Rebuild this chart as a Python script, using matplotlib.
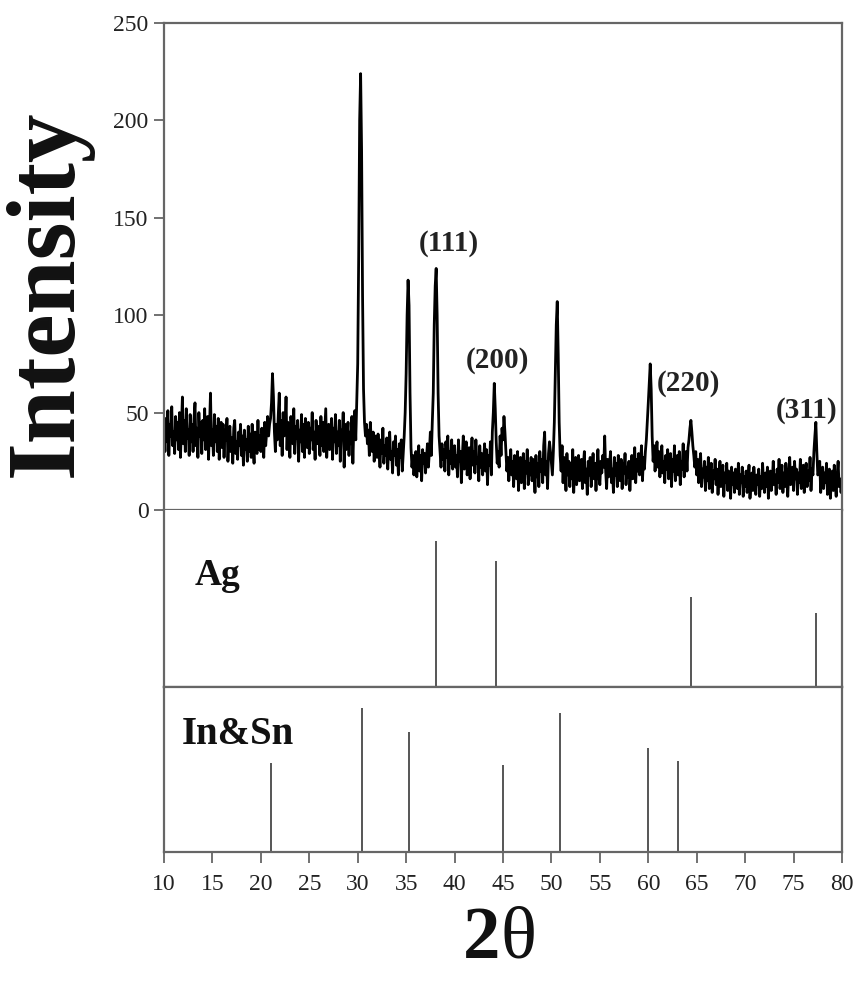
import numpy as np
import matplotlib
matplotlib.use("Agg")
import matplotlib.pyplot as plt

plt.rcParams['font.family'] = ['Liberation Serif', 'DejaVu Serif']

# ---- data: 2theta from 10.0 to 80.0 in 0.1 deg steps ----
two_theta_start = 10.0
two_theta_step = 0.1

int_10_20 = [42, 30, 47, 35, 51, 28, 44, 38, 53, 33,
             40, 29, 48, 36, 45, 31, 50, 27, 43, 58,
             34, 46, 30, 52, 37, 41, 28, 49, 35, 44,
             30, 47, 55, 33, 42, 27, 50, 38, 45, 29,
             46, 36, 52, 31, 40, 48, 26, 44, 60, 33,
             41, 28, 49, 35, 43, 30, 47, 26, 39, 45,
             32, 44, 27, 41, 36, 47, 25, 38, 43, 30,
             37, 24, 42, 46, 29, 35, 26, 40, 33, 44,
             28, 38, 23, 41, 31, 36, 25, 43, 30, 39,
             27, 44, 32, 24, 40, 35, 29, 46, 31, 38]
int_20_30 = [30, 42, 35, 27, 45, 33, 40, 48, 38, 44,
             47, 55, 70, 58, 40, 30, 44, 36, 49, 60,
             33, 46, 28, 50, 38, 42, 58, 31, 45, 36,
             27, 48, 40, 34, 52, 29, 43, 37, 46, 25,
             41, 35, 49, 30, 44, 27, 47, 38, 32, 45,
             29, 42, 36, 50, 31, 40, 26, 46, 34, 43,
             37, 28, 48, 33, 45, 30, 41, 52, 27, 39,
             44, 31, 38, 47, 26, 42, 35, 49, 29, 40,
             33, 46, 25, 41, 37, 50, 22, 44, 31, 38,
             45, 28, 40, 34, 48, 24, 43, 51, 36, 55]
int_30_40 = [75, 130, 200, 224, 185, 110, 62, 45, 38, 44,
             34, 41, 28, 45, 36, 30, 40, 25, 38, 33,
             27, 39, 31, 22, 36, 29, 42, 24, 33, 28,
             37, 21, 32, 40, 26, 30, 19, 35, 28, 38,
             23, 31, 18, 34, 27, 36, 20, 29, 38, 50,
             70, 100, 118, 105, 60, 32, 22, 28, 18, 25,
             30, 17, 26, 33, 20, 28, 15, 31, 24, 29,
             19, 27, 34, 22, 30, 40, 28, 45, 60, 95,
             115, 124, 100, 60, 38, 30, 22, 34, 26, 31,
             20, 35, 27, 38, 18, 30, 24, 36, 21, 29]
int_40_50 = [33, 22, 28, 17, 36, 25, 30, 14, 27, 38,
             21, 29, 35, 18, 26, 32, 16, 28, 37, 23,
             30, 19, 36, 24, 27, 15, 33, 22, 29, 18,
             26, 34, 20, 31, 13, 28, 23, 35, 18, 40,
             50, 65, 52, 35, 24, 30, 22, 38, 28, 42,
             36, 48, 40, 30, 20, 27, 15, 24, 31, 18,
             25, 12, 28, 20, 16, 30, 10, 23, 27, 14,
             22, 29, 11, 25, 19, 31, 13, 24, 18, 27,
             15, 26, 21, 9, 28, 17, 24, 12, 30, 20,
             26, 14, 33, 40, 18, 25, 11, 29, 35, 30]
int_50_60 = [24, 18, 30, 45, 70, 95, 107, 80, 45, 28,
             20, 33, 14, 27, 22, 10, 29, 18, 25, 12,
             24, 16, 31, 9, 22, 27, 13, 20, 28, 15,
             19, 26, 11, 23, 30, 14, 21, 8, 25, 18,
             27, 12, 20, 29, 16, 24, 10, 22, 31, 17,
             13, 25, 19, 28, 22, 38, 20, 11, 26, 17,
             23, 30, 14, 21, 9, 27, 18, 24, 12, 28,
             20, 15, 26, 11, 24, 19, 29, 13, 22, 17,
             25, 10, 21, 28, 16, 23, 32, 14, 26, 20,
             29, 18, 24, 33, 15, 27, 21, 30, 36, 45]
int_60_70 = [55, 65, 75, 62, 38, 25, 33, 20, 29, 35,
             22, 30, 17, 27, 33, 19, 25, 14, 28, 21,
             31, 16, 24, 29, 12, 26, 20, 33, 15, 23,
             28, 18, 30, 13, 25, 21, 34, 17, 27, 30,
             20, 32, 36, 42, 46, 40, 33, 28, 22, 30,
             18, 26, 14, 23, 29, 12, 21, 17, 25, 10,
             22, 15, 27, 11, 19, 24, 9, 20, 16, 26,
             13, 21, 8, 18, 25, 12, 17, 23, 7, 19,
             14, 24, 10, 20, 16, 6, 22, 13, 19, 9,
             21, 15, 11, 24, 8, 18, 14, 22, 7, 17]
int_70_80 = [12, 20, 9, 16, 23, 6, 14, 19, 10, 22,
             15, 8, 18, 13, 21, 7, 17, 11, 24, 14,
             9, 19, 12, 22, 6, 16, 20, 10, 15, 25,
             13, 18, 8, 21, 14, 26, 11, 17, 23, 9,
             19, 12, 24, 15, 7, 20, 27, 13, 18, 22,
             10, 25, 16, 21, 8, 19, 14, 26, 11, 17,
             23, 9, 18, 24, 12, 20, 15, 27, 10, 21,
             18, 30, 38, 45, 30, 18, 19, 25, 9, 17,
             22, 11, 19, 14, 24, 8, 17, 21, 6, 15,
             20, 10, 23, 13, 7, 18, 25, 12, 16, 9,
             14]

intensity = np.array(int_10_20 + int_20_30 + int_30_40 + int_40_50 +
                     int_50_60 + int_60_70 + int_70_80, dtype=float)
two_theta = two_theta_start + two_theta_step * np.arange(len(intensity))

ag_pos = [38.1, 44.3, 64.4, 77.3]
ag_rel = [0.825, 0.71, 0.51, 0.42]
insn_pos = [21.0, 30.4, 35.3, 45.0, 50.9, 60.0, 63.1]
insn_rel = [0.54, 0.87, 0.73, 0.53, 0.84, 0.63, 0.55]

hkl_labels = ['(111)', '(200)', '(220)', '(311)']
hkl_x = [39.4, 44.4, 64.1, 76.3]
hkl_y = [137, 77, 65, 51]

y_ticks = [0, 50, 100, 150, 200, 250]
x_ticks = list(range(10, 81, 5))

# ---- figure ----
W, H = 857, 984
fig = plt.figure(figsize=(W / 100, H / 100), dpi=100)

def ax_rect(l, t, r, b):
    return [l / W, 1 - b / H, (r - l) / W, (b - t) / H]

spine_col = '#666666'
tick_fs = 17

ax1 = fig.add_axes(ax_rect(164, 23, 842, 510))
ax2 = fig.add_axes(ax_rect(164, 510, 842, 687))
ax3 = fig.add_axes(ax_rect(164, 687, 842, 852))

for ax in (ax1, ax2, ax3):
    ax.set_xlim(10, 80)
    for s in ax.spines.values():
        s.set_color(spine_col)
        s.set_linewidth(1.6)

ax1.plot(two_theta, intensity, color='black', lw=2.0)
ax1.set_ylim(0, 250)
ax1.set_yticks(y_ticks)
ax1.set_xticks([])
ax1.tick_params(axis='y', direction='out', length=7, width=1.3, color=spine_col,
                labelsize=tick_fs, pad=4, labelcolor='#222222')
for lab, x, y in zip(hkl_labels, hkl_x, hkl_y):
    ax1.text(x, y, lab, ha='center', va='center', fontsize=21,
             fontweight='bold', color='#222222')

ax2.set_ylim(0, 1)
ax2.vlines(ag_pos, 0, ag_rel, color='#555555', lw=1.4)
ax2.set_xticks([])
ax2.set_yticks([])
ax2.spines['top'].set_visible(False)
ax2.text(0.045, 0.63, 'Ag', transform=ax2.transAxes, fontsize=27,
         fontweight='bold', va='center', ha='left', color='#111111')

ax3.set_ylim(0, 1)
ax3.vlines(insn_pos, 0, insn_rel, color='#555555', lw=1.4)
ax3.set_yticks([])
ax3.set_xticks(x_ticks)
ax3.tick_params(axis='x', direction='out', length=8, width=1.3, color=spine_col,
                labelsize=tick_fs, pad=8, labelcolor='#222222')
ax3.text(0.026, 0.71, 'In&Sn', transform=ax3.transAxes, fontsize=28,
         fontweight='bold', va='center', ha='left', color='#111111')

fig.text(48 / W, 1 - 293 / H, 'Intensity', rotation=90, ha='center', va='center',
         fontsize=70, fontweight='bold', color='#111111')
fig.text(500 / W, 1 - 940 / H, '2', ha='right', va='center', fontsize=54,
         fontweight='bold', color='#111111')
fig.text(500 / W, 1 - 940 / H, 'θ', ha='left', va='center', fontsize=54,
         color='#111111')

fig.savefig('out.png', dpi=100)
